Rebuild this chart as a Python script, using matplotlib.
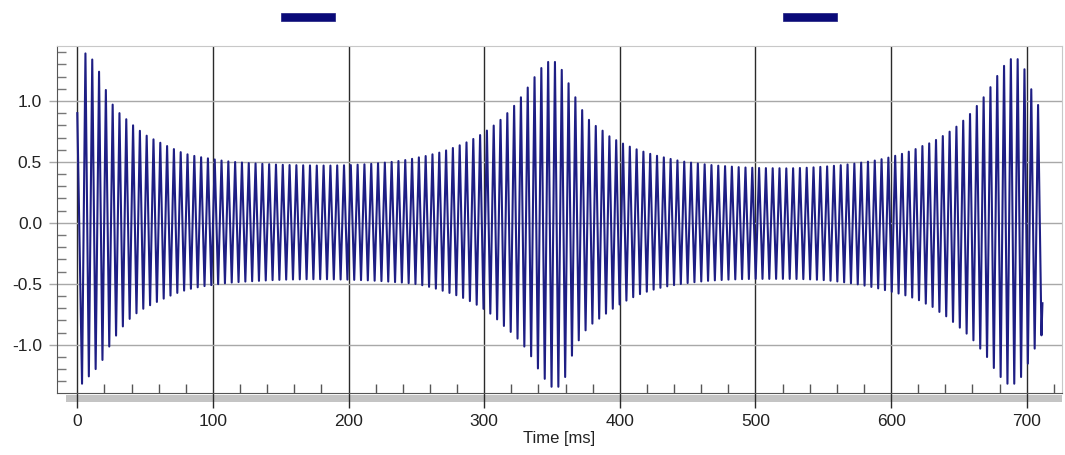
import numpy as np
import matplotlib
matplotlib.use("Agg")
import matplotlib.pyplot as plt
from matplotlib.ticker import MultipleLocator, FormatStrFormatter
from matplotlib.patches import Rectangle
import matplotlib.transforms as mtransforms

plt.rcParams['font.family'] = ['Liberation Sans', 'DejaVu Sans']
plt.rcParams['axes.unicode_minus'] = False

# carrier period and first peak time [ms]
period = 5.017
first_peak = 6.0
start_value = 0.90
end_time = 711.6
end_value = -0.66

# positive peak of every cycle (k = 0..140)
peaks = [1.39, 1.34, 1.24, 1.09, 0.97, 0.90, 0.85, 0.80, 0.755, 0.715, 0.685, 0.657,
         0.63, 0.605, 0.58, 0.562, 0.549, 0.538, 0.529, 0.52, 0.511, 0.504, 0.499,
         0.495, 0.49, 0.487, 0.484, 0.481, 0.478, 0.476, 0.474, 0.473, 0.472, 0.471,
         0.47, 0.47, 0.47, 0.471, 0.472, 0.474, 0.477, 0.48, 0.484, 0.489, 0.494,
         0.50, 0.507, 0.515, 0.525, 0.537,
         0.548, 0.562, 0.576, 0.594, 0.614, 0.636, 0.66, 0.688, 0.72, 0.757, 0.798,
         0.845, 0.90, 0.96, 1.03, 1.11, 1.195, 1.27, 1.32, 1.32, 1.255, 1.145, 1.03,
         0.925, 0.845, 0.795, 0.756,
         0.71, 0.678, 0.65, 0.625, 0.603, 0.584, 0.566, 0.55, 0.537, 0.524, 0.512,
         0.502, 0.494, 0.487, 0.48, 0.474, 0.469, 0.465, 0.461, 0.457, 0.454, 0.452,
         0.45, 0.449, 0.448, 0.448,
         0.447, 0.448, 0.45, 0.452, 0.455, 0.459, 0.463, 0.468, 0.473, 0.479, 0.486,
         0.494, 0.502, 0.511, 0.522, 0.535, 0.55, 0.566, 0.584, 0.605,
         0.63, 0.652, 0.68, 0.712, 0.748, 0.789, 0.838, 0.893, 0.959, 1.03, 1.113,
         1.205, 1.288, 1.343, 1.343, 1.26, 1.096, 0.967]

# negative trough before every peak (j = 0..141)
troughs = [-1.32, -1.26, -1.20, -1.125, -1.015, -0.925, -0.85, -0.788, -0.742, -0.705,
           -0.676, -0.649, -0.622, -0.597, -0.575, -0.556, -0.541, -0.529, -0.519,
           -0.511, -0.503, -0.496, -0.49,
           -0.486, -0.482, -0.479, -0.476, -0.473, -0.47, -0.468, -0.466, -0.465,
           -0.464, -0.463, -0.463, -0.463, -0.463, -0.464, -0.465, -0.466, -0.468,
           -0.47, -0.472, -0.475, -0.478, -0.482, -0.486, -0.49, -0.495, -0.502,
           -0.512, -0.525, -0.54, -0.557, -0.575, -0.594, -0.616, -0.642, -0.672,
           -0.706, -0.745, -0.792, -0.846, -0.895, -0.95, -1.015, -1.095, -1.195,
           -1.28, -1.345, -1.345, -1.265, -1.09, -0.964, -0.882, -0.827, -0.786,
           -0.745, -0.705, -0.67, -0.638, -0.61, -0.585, -0.565, -0.548, -0.533,
           -0.521, -0.511, -0.502, -0.494, -0.487, -0.481, -0.476, -0.472, -0.469,
           -0.466, -0.464, -0.462, -0.461, -0.46, -0.46, -0.46, -0.46,
           -0.46, -0.46, -0.461, -0.462, -0.464, -0.467, -0.47, -0.475, -0.481,
           -0.488, -0.496, -0.505, -0.515, -0.526, -0.538, -0.552, -0.566, -0.58,
           -0.595, -0.613,
           -0.635, -0.663, -0.69, -0.731, -0.767, -0.813, -0.86, -0.909, -0.964,
           -1.032, -1.101, -1.191, -1.265, -1.32, -1.32, -1.265, -1.155, -1.032, -0.923]

# stimulus bars above the trace [ms]
stim_on = [150, 520]
stim_off = [190, 560]

# build the trace: start, T0, P0, T1, P1, ..., P140, T141, end
t_peaks = first_peak + period * np.arange(len(peaks))
t_troughs = first_peak - period / 2 + period * np.arange(len(troughs))
t = [0.0]
y = [start_value]
for j in range(len(troughs)):
    t.append(t_troughs[j]); y.append(troughs[j])
    if j < len(peaks):
        t.append(t_peaks[j]); y.append(peaks[j])
t.append(end_time); y.append(end_value)

fig = plt.figure(figsize=(10.65, 4.55), dpi=100)
ax = fig.add_axes([0.0538, 0.1369, 0.9431, 0.762])

ax.plot(t, y, color='#1e1e84', lw=1.5, zorder=3)

ax.set_xlim(-14.75, 725.8)
ax.set_ylim(-1.394, 1.451)

ax.xaxis.set_major_locator(MultipleLocator(100))
ax.xaxis.set_minor_locator(MultipleLocator(20))
ax.yaxis.set_major_locator(MultipleLocator(0.5))
ax.yaxis.set_minor_locator(MultipleLocator(0.1))
ax.yaxis.set_major_formatter(FormatStrFormatter('%.1f'))

ax.xaxis.grid(True, which='major', color='#2a2a2a', lw=1.0)
ax.yaxis.grid(True, which='major', color='#a8a8a8', lw=1.0)

ax.tick_params(axis='x', which='major', direction='out', length=11, width=1.0,
               color='#2a2a2a', pad=4, labelsize=12.5, labelcolor='#222222')
ax.tick_params(axis='x', which='minor', direction='in', length=6.5, width=1.0,
               color='#555555')
ax.tick_params(axis='y', which='major', direction='out', length=6, width=1.0,
               color='#a8a8a8', pad=5, labelsize=12.5, labelcolor='#222222')
ax.tick_params(axis='y', which='minor', direction='in', length=6.5, width=1.0,
               color='#777777')

for side in ['top', 'right']:
    ax.spines[side].set_color('#c8c8c8')
for side in ['left', 'bottom']:
    ax.spines[side].set_color('#555555')

# gray shadow under the time axis
ax.add_patch(Rectangle((0.0087, -0.027), 0.9913, 0.0205, transform=ax.transAxes,
                       facecolor='#c4c4c4', edgecolor='none', clip_on=False, zorder=1))

ax.set_xlabel('Time [ms]', fontsize=12, color='#222222')
ax.xaxis.set_label_coords(0.5, -0.11)

# stimulus bars
trans = mtransforms.blended_transform_factory(ax.transData, ax.transAxes)
for on, off in zip(stim_on, stim_off):
    ax.add_patch(Rectangle((on, 1.072), off - on, 0.023, transform=trans,
                           facecolor='#0a0a78', edgecolor='#1a1a80', lw=0.5,
                           clip_on=False))

fig.savefig('out.png', dpi=100)
